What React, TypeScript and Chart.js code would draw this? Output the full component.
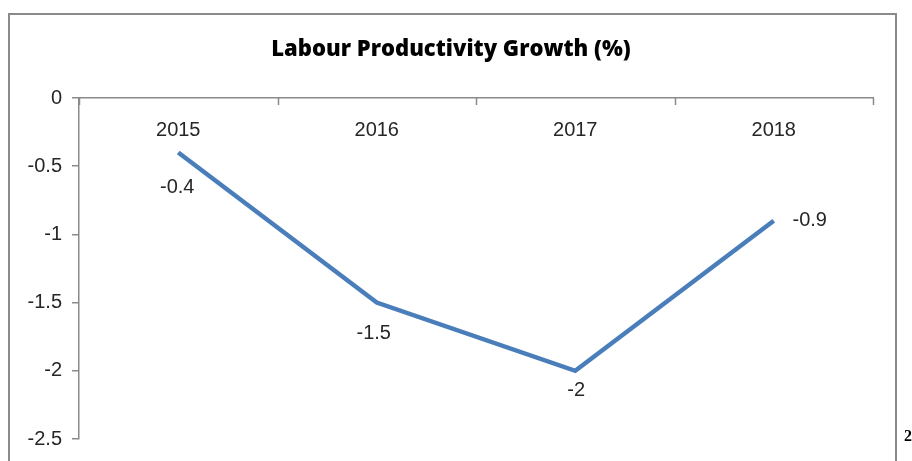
import React, { useEffect, useRef } from "react";
import { Chart, registerables } from "chart.js";

Chart.register(...registerables);

const TITLE = "Labour Productivity Growth (%)";
const years = ["2015", "2016", "2017", "2018"];
const growth = [-0.4, -1.5, -2, -0.9];
const yMin = -2.5;
const yMax = 0;
const yStep = 0.5;

// styling: data label offsets from each point [dx, dy]
const labelOffsets: [number, number][] = [
  [-1, 35],
  [-3, 31],
  [1, 20],
  [36, 0],
];

const AXIS = "#8a8a8a";
const TEXT = "#262626";
const LINE = "#4a7ebb";
const TICK_FONT = "'Liberation Sans', Arial, sans-serif";

const overlay = {
  id: "overlay",
  afterDraw(chart: any) {
    const ctx = chart.ctx;
    const xs = chart.scales.x;
    const area = chart.chartArea;
    ctx.save();
    // x tick marks (inward, at category boundaries)
    ctx.strokeStyle = AXIS;
    ctx.lineWidth = 1.5;
    for (let i = 0; i <= years.length; i++) {
      const x = Math.round(xs.getPixelForValue(i - 0.5)) + 0.5;
      ctx.beginPath();
      ctx.moveTo(x, area.top);
      ctx.lineTo(x, area.top + 7);
      ctx.stroke();
    }
    // x labels (below axis line)
    ctx.fillStyle = TEXT;
    ctx.font = `20px ${TICK_FONT}`;
    ctx.textAlign = "center";
    ctx.textBaseline = "middle";
    years.forEach((y, i) => {
      ctx.fillText(y, xs.getPixelForTick(i), area.top + 32);
    });
    // data labels
    const meta = chart.getDatasetMeta(0);
    meta.data.forEach((el: any, i: number) => {
      const [dx, dy] = labelOffsets[i];
      ctx.fillText(String(growth[i]), el.x + dx, el.y + dy);
    });
    // title
    ctx.fillStyle = "#000";
    ctx.font = `800 22px 'Open Sans', sans-serif`;
    ctx.fillText(TITLE, 451, 50);
    ctx.restore();
  },
};

export default function App() {
  const ref = useRef<HTMLCanvasElement>(null);
  useEffect(() => {
    if (!ref.current) return;
    const chart = new Chart(ref.current, {
      type: "line",
      data: {
        labels: years,
        datasets: [
          {
            data: growth,
            borderColor: LINE,
            borderWidth: 4.5,
            pointRadius: 0,
            tension: 0,
            fill: false,
          },
        ],
      },
      options: {
        responsive: false,
        animation: false,
        events: [],
        layout: { padding: { left: 0, top: 98, right: 39, bottom: 19 } },
        plugins: {
          legend: { display: false },
          title: { display: false },
          tooltip: { enabled: false },
        },
        scales: {
          x: {
            position: "top",
            offset: true,
            grid: { display: false, drawTicks: false },
            border: { display: true, color: AXIS, width: 1.5 },
            ticks: { display: false },
            afterFit: (s: any) => {
              s.height = 0;
            },
          },
          y: {
            min: yMin,
            max: yMax,
            ticks: {
              stepSize: yStep,
              color: TEXT,
              padding: 10,
              font: { size: 20, family: TICK_FONT },
              callback: (v: any) => String(Number(v)),
            },
            grid: {
              drawOnChartArea: false,
              drawTicks: true,
              tickLength: 7,
              color: AXIS,
              lineWidth: 1.5,
            },
            border: { display: true, color: AXIS, width: 1.5 },
            afterFit: (s: any) => {
              s.width = 79;
            },
          },
        },
      },
      plugins: [overlay],
    });
    return () => chart.destroy();
  }, []);

  return (
    <div style={{ position: "fixed", inset: 0, overflow: "hidden", background: "#fff" }}>
      <div
        style={{
          position: "absolute",
          left: 8,
          top: 13,
          width: 889,
          height: 470,
          border: "2px solid #8a8a8a",
          boxSizing: "border-box",
        }}
      />
      <canvas
        ref={ref}
        width={912}
        height={461}
        style={{ position: "absolute", left: 0, top: 0, width: 912, height: 461 }}
      />
      <div
        style={{
          position: "absolute",
          left: 904,
          top: 427,
          fontFamily: "'Liberation Serif', 'Times New Roman', serif",
          fontWeight: "bold",
          fontSize: 16,
          color: "#000",
        }}
      >
        2
      </div>
    </div>
  );
}
